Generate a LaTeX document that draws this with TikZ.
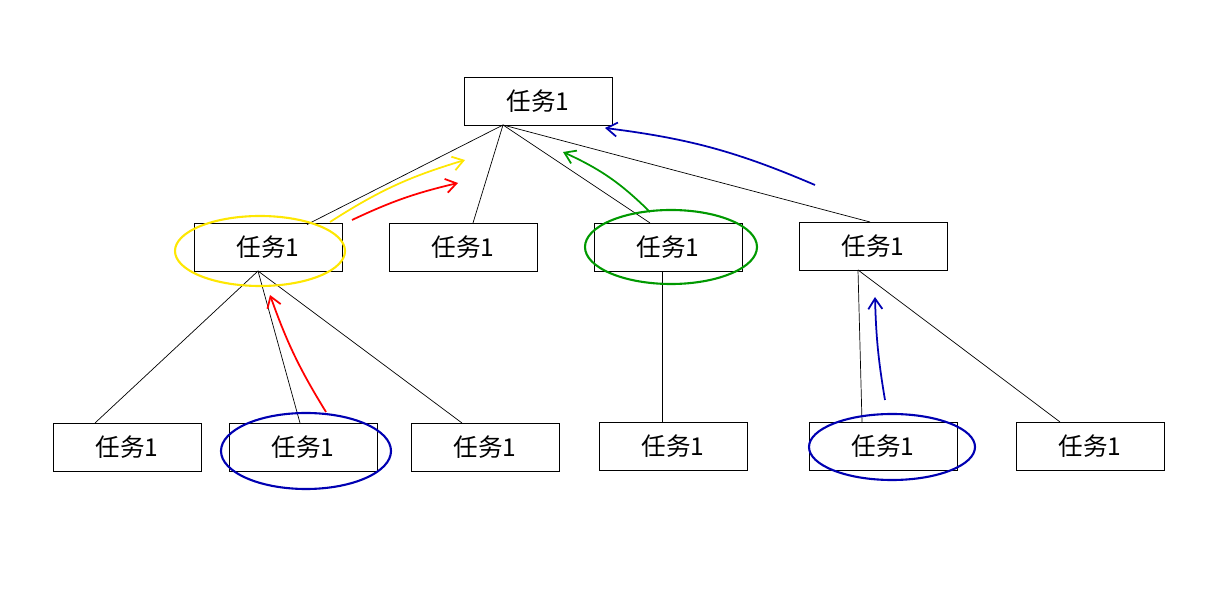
\documentclass[tikz,border=0pt]{standalone}
\usepackage{fontspec}
\newfontfamily\cjk{Noto Sans CJK SC}
\usetikzlibrary{arrows.meta}
\begin{document}
\begin{tikzpicture}[x=0.02cm,y=-0.02cm,
  task/.style={draw,thin,minimum width=2.96cm,minimum height=0.96cm,inner sep=0pt,font=\cjk\fontsize{14}{16}\selectfont},
  ring/.style={line width=1.2pt},
  hand/.style={line width=1pt,-{Straight Barb[length=6pt,width=8pt]}}]
\useasboundingbox (0,0) rectangle (1231,607);
% boxes
\node[task] (r) at (538,101) {任务1};
\node[task] (a) at (268,247) {任务1};
\node[task] (b) at (463,247) {任务1};
\node[task] (c) at (668,247) {任务1};
\node[task] (d) at (873,246) {任务1};
\node[task] (a1) at (127,447) {任务1};
\node[task] (a2) at (303,447) {任务1};
\node[task] (a3) at (485,447) {任务1};
\node[task] (c1) at (673,446) {任务1};
\node[task] (d1) at (883,446) {任务1};
\node[task] (d2) at (1090,446) {任务1};
% branches
\coordinate (rb) at (503,125);
\coordinate (ab) at (258,271);
\coordinate (db) at (858,270);
\draw (rb) -- (307,224.5);
\draw (rb) -- (473,223);
\draw (rb) -- (650,223);
\draw (rb) -- (870,222);
\draw (ab) -- (95,423);
\draw (ab) -- (300,423);
\draw (ab) -- (462,423);
\draw (c.south -| 662,0) -- (c1.north -| 662,0);
\draw (db) -- (862,422);
\draw (db) -- (1060,422);
% marks
\draw[ring,yellow!90!orange] (260,251) ellipse [x radius=85,y radius=35];
\draw[ring,green!60!black] (671,247) ellipse [x radius=86,y radius=37];
\draw[ring,blue!70!black] (306,451) ellipse [x radius=85,y radius=38];
\draw[ring,blue!70!black] (892,447) ellipse [x radius=83,y radius=33];
\draw[hand,yellow!90!orange] (330,222) to[bend left=8] (465,160);
\draw[hand,red] (352,220) to[bend left=6] (458,183);
\draw[hand,green!60!black] (650,212) to[bend right=10] (563,152);
\draw[hand,blue!70!black] (815,185) to[bend right=8] (605,128);
\draw[hand,red] (326,412) to[bend left=6] (270,295);
\draw[hand,blue!70!black] (885,400) to[bend left=4] (875,297);
\end{tikzpicture}
\end{document}
